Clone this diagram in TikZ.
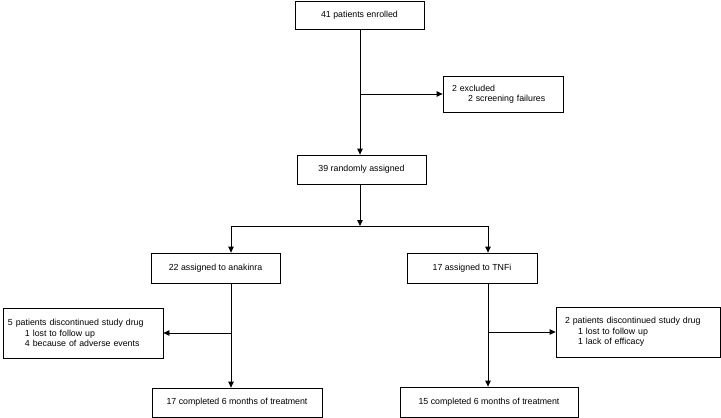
\documentclass[tikz,border=0pt]{standalone}
\usepackage{fontspec}
\setmainfont{Liberation Sans}
\usetikzlibrary{arrows.meta}
\begin{document}
\begin{tikzpicture}[x=1pt,y=-1pt,
  box/.style={draw=black,line width=0.8pt,rectangle,inner sep=0pt,align=center,
    font=\fontsize{8.8}{10.5}\selectfont},
  lbox/.style={draw=black,line width=0.8pt,rectangle,inner ysep=0pt,align=left,
    font=\fontsize{8.8}{10.5}\selectfont},
  conn/.style={line width=0.8pt,draw=black},
  arr/.style={conn,-{Triangle[length=6pt,width=5.5pt]}}]
\useasboundingbox (0,0) rectangle (721,418);
\node[box,minimum width=129pt,minimum height=28pt] (enrolled) at (359.5,15) {41 patients enrolled};
\node[lbox,minimum width=120pt,minimum height=36pt,inner xsep=9pt,text width=102pt] (excluded) at (503,94) {2 excluded\\\hspace*{16pt}2 screening failures};
\node[box,minimum width=129pt,minimum height=29pt] (randomly) at (361.5,169.5) {39 randomly assigned};
\node[box,minimum width=129pt,minimum height=30pt] (anakinra) at (215.5,268) {22 assigned to anakinra};
\node[box,minimum width=130pt,minimum height=30pt] (tnfi) at (472,268) {17 assigned to TNFi};
\node[lbox,minimum width=160pt,minimum height=50pt,inner xsep=5pt,text width=150pt] (discL) at (83,333) {5 patients discontinued study drug\\\hspace*{17pt}1 lost to follow up\\\hspace*{17pt}4 because of adverse events};
\node[lbox,minimum width=164pt,minimum height=50pt,inner xsep=9pt,text width=146pt] (discR) at (638,332) {2 patients discontinued study drug\\\hspace*{13pt}1 lost to follow up\\\hspace*{13pt}1 lack of efficacy};
\node[box,minimum width=170pt,minimum height=29pt] (compL) at (237,402.5) {17 completed 6 months of treatment};
\node[box,minimum width=178pt,minimum height=30pt] (compR) at (489,402) {15 completed 6 months of treatment};
% connectors
\coordinate (split) at (360,226);
\coordinate (la) at (231,226);
\coordinate (ra) at (488,226);
\draw[arr] (enrolled.south -| split) -- (randomly.north -| split);
\draw[arr] (split |- excluded.west) -- (excluded.west);
\draw[arr] (randomly.south -| split) -- (split);
\draw[conn] (la) -- (ra);
\draw[arr] (la) -- (la |- anakinra.north);
\draw[arr] (ra) -- (ra |- tnfi.north);
\draw[arr] (la |- anakinra.south) -- (la |- compL.north);
\draw[arr] (ra |- tnfi.south) -- (ra |- compR.north);
\draw[arr] (la |- discL.east) -- (discL.east);
\draw[arr] (ra |- discR.west) -- (discR.west);
\end{tikzpicture}
\end{document}
